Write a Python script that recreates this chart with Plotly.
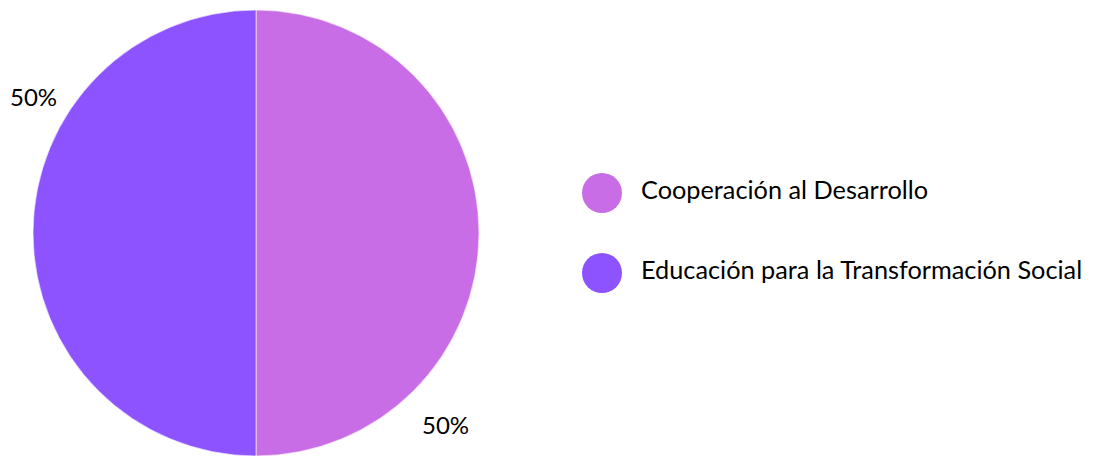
import plotly.graph_objects as go

categories = ["Cooperación al Desarrollo", "Educación para la Transformación Social"]
values = [50, 50]
colors = ["#C96DE7", "#8C53FF"]

W, H = 1103, 458
OFF = 8  # page body margin
FONT = "Lato"


def px_x(x):
    return (x - OFF) / W


def px_y(y):
    return 1 - (y - OFF) / H


fig = go.Figure()
fig.add_trace(go.Pie(
    labels=categories, values=values, sort=False, direction="clockwise", rotation=0,
    marker=dict(colors=colors, line=dict(color="rgba(255,255,255,0.6)", width=1)),
    textinfo="none", hoverinfo="label+percent", showlegend=False,
    domain=dict(x=[px_x(33), px_x(479)], y=[px_y(456), px_y(10)]),
))

total = sum(values)
pct = [f"{round(v / total * 100)}%" for v in values]
label_pos = [(445, 424), (33, 96)]

annotations = []
shapes = []
for (px, py), t in zip(label_pos, pct):
    annotations.append(dict(x=px_x(px), y=px_y(py), xref="paper", yref="paper",
                            text=t, showarrow=False, xanchor="center", yanchor="middle",
                            font=dict(family=FONT, size=24, color="#000000")))

leg_y = [193, 273]
for name, col, ly in zip(categories, colors, leg_y):
    shapes.append(dict(type="circle", xref="paper", yref="paper",
                       x0=px_x(582), x1=px_x(622), y0=px_y(ly + 20), y1=px_y(ly - 20),
                       fillcolor=col, line=dict(width=0)))
    annotations.append(dict(x=px_x(639), y=px_y(ly - 4), xref="paper", yref="paper",
                            text=name, showarrow=False, xanchor="left", yanchor="middle",
                            font=dict(family=FONT, size=25.3, color="#000000")))

fig.update_layout(
    width=W, height=H, margin=dict(l=0, r=0, t=0, b=0),
    paper_bgcolor="white", plot_bgcolor="white",
    annotations=annotations, shapes=shapes, showlegend=False,
)
fig.write_html("out.html")
